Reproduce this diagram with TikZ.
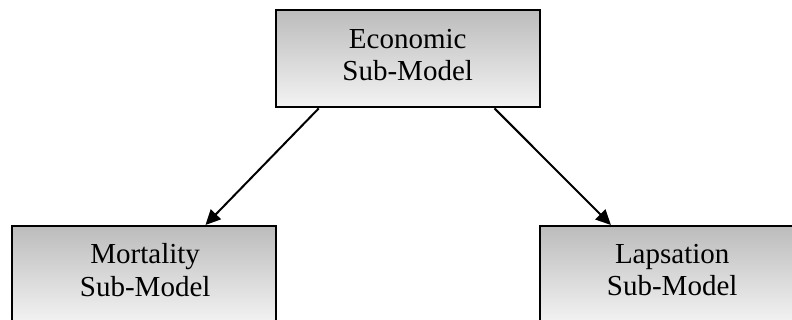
\documentclass[tikz,border=0pt]{standalone}
\usepackage{fontspec}
\setmainfont{Liberation Serif}
\usetikzlibrary{calc,arrows.meta}
\definecolor{boxtop}{RGB}{188,188,188}
\definecolor{boxbot}{RGB}{243,243,243}
\begin{document}
\begin{tikzpicture}[x=1pt,y=-1pt,
  modelbox/.style={draw=black, line width=2.4pt, minimum width=264pt, minimum height=97pt,
    top color=boxtop, bottom color=boxbot, inner sep=0pt},
  boxtext/.style={align=center, font=\fontsize{29}{32.5}\selectfont, text=black},
  conn/.style={line width=2pt, -{Triangle[length=15pt,width=14pt]}}]
\useasboundingbox (0,0) rectangle (792,320);
\clip (0,0) rectangle (792,320);
\node[modelbox, anchor=north west] (econ) at (274.5,9) {};
\node[modelbox, anchor=north west] (mort) at (11,225) {};
\node[modelbox, anchor=north west] (laps) at (539,225) {};
\node[boxtext] (econt) at ($(econ.north)+(0,46)$) {Economic\\Sub-Model};
\node[boxtext] (mortt) at ($(mort.north)+(1,45)$) {Mortality\\Sub-Model};
\node[boxtext] (lapst) at ($(laps.north)+(0,45)$) {Lapsation\\Sub-Model};
\coordinate (a1) at ($(econ.south west)!0.166!(econ.south east)$);
\coordinate (a2) at ($(econ.south west)!0.826!(econ.south east)$);
\coordinate (b1) at ($(mort.north west)!0.73!(mort.north east)$);
\coordinate (b2) at ($(laps.north west)!0.27!(laps.north east)$);
\draw[conn] (a1) -- (b1);
\draw[conn] (a2) -- (b2);
\end{tikzpicture}
\end{document}
